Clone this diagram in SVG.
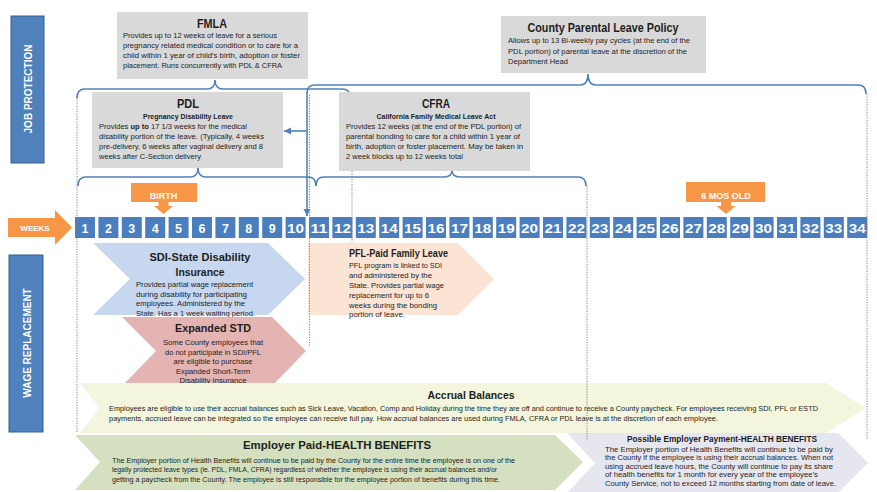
<svg xmlns="http://www.w3.org/2000/svg" width="877" height="492" viewBox="0 0 877 492">
<defs>
<style>
text{font-family:"Liberation Sans",Arial,sans-serif;fill:#1e1e1e}
.b{font-size:7.5px}
.s{font-size:7px}
.t{font-weight:bold}
.w{fill:#ffffff;font-weight:bold}
.wk{fill:#4A7EBF}
.gray{fill:#D9D9D9}
.side{fill:#4F81BD;stroke:#3B5E8C;stroke-width:1}
.org{fill:#F79646}
.brace{fill:none;stroke:#4F81BD;stroke-width:1.6}
.dot{fill:none;stroke:#7F7F7F;stroke-width:1;stroke-dasharray:1.2 1.4}
</style>
<marker id="ah" markerUnits="userSpaceOnUse" markerWidth="8" markerHeight="8" refX="7" refY="4" orient="auto">
<path d="M0,0.5 L7,4 L0,7.5 Z" fill="#4F81BD"/>
</marker>
</defs>
<rect width="877" height="492" fill="#ffffff"/>

<g id="connectors">
<path class="brace" d="M77,98 Q77,89 85,89 H207 Q215,89 215,80 Q215,89 223,89 H342 Q350,89 350,97"/>
<path class="brace" d="M307,93 Q307,85 315,85 H580 Q588,85 588,74 Q588,85 596,85 H858 Q866,85 866,94"/>
<path class="brace" d="M78,186 Q78,177 86,177 H190 Q198,177 198,168 Q198,177 206,177 H308 Q316,177 316,186"/>
<path class="brace" d="M316,186 Q316,177 324,177 H444 Q452,177 452,170 Q452,177 460,177 H578 Q586,177 586,186"/>
<path class="brace" d="M307,92 V216" marker-end="url(#ah)"/>
<path class="brace" d="M307,131 H284" marker-end="url(#ah)"/>
</g>

<g id="job-protection">
<rect class="side" x="11" y="16" width="33" height="147"/>
<text class="w" font-size="10" text-anchor="middle" transform="translate(31.5,89) rotate(-90)">JOB PROTECTION</text>
</g>

<g id="wage-replacement">
<rect class="side" x="9" y="255" width="34" height="177"/>
<text class="w" font-size="10" text-anchor="middle" transform="translate(30.5,343) rotate(-90)">WAGE REPLACEMENT</text>
</g>

<g id="fmla">
<rect class="gray" x="117" y="12" width="191" height="67"/>
<text class="t" font-size="13" x="212" y="28" text-anchor="middle" textLength="30" lengthAdjust="spacingAndGlyphs">FMLA</text>
<text class="b" x="123" y="38" textLength="154" lengthAdjust="spacingAndGlyphs">Provides up to 12 weeks of leave for a serious</text>
<text class="b" x="123" y="48" textLength="175" lengthAdjust="spacingAndGlyphs">pregnancy related medical condition or to care for a</text>
<text class="b" x="123" y="58" textLength="177" lengthAdjust="spacingAndGlyphs">child within 1 year of child's birth, adoption or foster</text>
<text class="b" x="123" y="68" textLength="159" lengthAdjust="spacingAndGlyphs">placement. Runs concurrently with PDL &amp; CFRA</text>
</g>

<g id="county-policy">
<rect class="gray" x="501" y="16" width="205" height="57"/>
<text class="t" font-size="12.5" x="603" y="32" text-anchor="middle" textLength="151" lengthAdjust="spacingAndGlyphs">County Parental Leave Policy</text>
<text class="b" x="508" y="43" textLength="182" lengthAdjust="spacingAndGlyphs">Allows up to 13 Bi-weekly pay cycles (at the end of the</text>
<text class="b" x="508" y="53.5" textLength="179" lengthAdjust="spacingAndGlyphs">PDL portion) of parental leave at the discretion of the</text>
<text class="b" x="508" y="64" textLength="60" lengthAdjust="spacingAndGlyphs">Department Head</text>
</g>

<g id="pdl">
<rect class="gray" x="92" y="92" width="191" height="76"/>
<text class="t" font-size="13" x="188" y="108" text-anchor="middle" textLength="22" lengthAdjust="spacingAndGlyphs">PDL</text>
<text class="b t" x="188" y="119" text-anchor="middle" textLength="90" lengthAdjust="spacingAndGlyphs">Pregnancy Disability Leave</text>
<text class="b" x="99" y="129" textLength="148" lengthAdjust="spacingAndGlyphs">Provides <tspan font-weight="bold">up to</tspan> 17 1/3 weeks for the medical</text>
<text class="b" x="99" y="139" textLength="165" lengthAdjust="spacingAndGlyphs">disability portion of the leave. (Typically, 4 weeks</text>
<text class="b" x="99" y="149" textLength="164" lengthAdjust="spacingAndGlyphs">pre-delivery, 6 weeks after vaginal delivery and 8</text>
<text class="b" x="99" y="159" textLength="102" lengthAdjust="spacingAndGlyphs">weeks after C-Section delivery</text>
</g>

<g id="cfra">
<rect class="gray" x="339" y="92" width="191" height="79"/>
<text class="t" font-size="13" x="436" y="108" text-anchor="middle" textLength="28" lengthAdjust="spacingAndGlyphs">CFRA</text>
<text class="b t" x="436" y="119" text-anchor="middle" textLength="119" lengthAdjust="spacingAndGlyphs">California Family Medical Leave Act</text>
<text class="b" x="346" y="129" textLength="175" lengthAdjust="spacingAndGlyphs">Provides 12 weeks (at the end of the PDL portion) of</text>
<text class="b" x="346" y="139" textLength="174" lengthAdjust="spacingAndGlyphs">parental bonding to care for a child within 1 year of</text>
<text class="b" x="346" y="149" textLength="177" lengthAdjust="spacingAndGlyphs">birth, adoption or foster placement. May be taken in</text>
<text class="b" x="346" y="159" textLength="117" lengthAdjust="spacingAndGlyphs">2 week blocks up to 12 weeks total</text>
</g>

<g id="birth">
<path class="org" d="M131,183 H197 V202 H168.5 V206 H173 L163.5,214 L154,206 H158.5 V202 H131 Z"/>
<text class="w" font-size="9" x="163.5" y="199" text-anchor="middle">BIRTH</text>
</g>

<g id="six-months">
<path class="org" d="M686,182 H765 V202 H731 V206 H735.5 L726,214 L716.5,206 H721 V202 H686 Z"/>
<text class="w" font-size="9" x="726" y="199" text-anchor="middle">6 MOS OLD</text>
</g>

<g id="weeks-arrow">
<path class="org" d="M8,218 H55 V210 L72,227.5 L55,245 V237 H8 Z"/>
<text class="w" font-size="8" x="35" y="230.5" text-anchor="middle">WEEKS</text>
</g>

<g id="weeks" font-size="12.5">
<rect class="wk" x="75" y="217" width="20" height="21"/><text class="w" x="85" y="232.5" text-anchor="middle">1</text>
<rect class="wk" x="98.4" y="217" width="20" height="21"/><text class="w" x="108.4" y="232.5" text-anchor="middle">2</text>
<rect class="wk" x="121.8" y="217" width="20" height="21"/><text class="w" x="131.8" y="232.5" text-anchor="middle">3</text>
<rect class="wk" x="145.2" y="217" width="20" height="21"/><text class="w" x="155.2" y="232.5" text-anchor="middle">4</text>
<rect class="wk" x="168.6" y="217" width="20" height="21"/><text class="w" x="178.6" y="232.5" text-anchor="middle">5</text>
<rect class="wk" x="192" y="217" width="20" height="21"/><text class="w" x="202" y="232.5" text-anchor="middle">6</text>
<rect class="wk" x="215.4" y="217" width="20" height="21"/><text class="w" x="225.4" y="232.5" text-anchor="middle">7</text>
<rect class="wk" x="238.8" y="217" width="20" height="21"/><text class="w" x="248.8" y="232.5" text-anchor="middle">8</text>
<rect class="wk" x="262.2" y="217" width="20" height="21"/><text class="w" x="272.2" y="232.5" text-anchor="middle">9</text>
<rect class="wk" x="285.6" y="217" width="20" height="21"/><text class="w" x="295.6" y="232.5" text-anchor="middle" textLength="17" lengthAdjust="spacingAndGlyphs">10</text>
<rect class="wk" x="309" y="217" width="20" height="21"/><text class="w" x="319" y="232.5" text-anchor="middle" textLength="17" lengthAdjust="spacingAndGlyphs">11</text>
<rect class="wk" x="332.4" y="217" width="20" height="21"/><text class="w" x="342.4" y="232.5" text-anchor="middle" textLength="17" lengthAdjust="spacingAndGlyphs">12</text>
<rect class="wk" x="355.8" y="217" width="20" height="21"/><text class="w" x="365.8" y="232.5" text-anchor="middle" textLength="17" lengthAdjust="spacingAndGlyphs">13</text>
<rect class="wk" x="379.2" y="217" width="20" height="21"/><text class="w" x="389.2" y="232.5" text-anchor="middle" textLength="17" lengthAdjust="spacingAndGlyphs">14</text>
<rect class="wk" x="402.6" y="217" width="20" height="21"/><text class="w" x="412.6" y="232.5" text-anchor="middle" textLength="17" lengthAdjust="spacingAndGlyphs">15</text>
<rect class="wk" x="426" y="217" width="20" height="21"/><text class="w" x="436" y="232.5" text-anchor="middle" textLength="17" lengthAdjust="spacingAndGlyphs">16</text>
<rect class="wk" x="449.4" y="217" width="20" height="21"/><text class="w" x="459.4" y="232.5" text-anchor="middle" textLength="17" lengthAdjust="spacingAndGlyphs">17</text>
<rect class="wk" x="472.8" y="217" width="20" height="21"/><text class="w" x="482.8" y="232.5" text-anchor="middle" textLength="17" lengthAdjust="spacingAndGlyphs">18</text>
<rect class="wk" x="496.2" y="217" width="20" height="21"/><text class="w" x="506.2" y="232.5" text-anchor="middle" textLength="17" lengthAdjust="spacingAndGlyphs">19</text>
<rect class="wk" x="519.6" y="217" width="20" height="21"/><text class="w" x="529.6" y="232.5" text-anchor="middle" textLength="17" lengthAdjust="spacingAndGlyphs">20</text>
<rect class="wk" x="543" y="217" width="20" height="21"/><text class="w" x="553" y="232.5" text-anchor="middle" textLength="17" lengthAdjust="spacingAndGlyphs">21</text>
<rect class="wk" x="566.4" y="217" width="20" height="21"/><text class="w" x="576.4" y="232.5" text-anchor="middle" textLength="17" lengthAdjust="spacingAndGlyphs">22</text>
<rect class="wk" x="589.8" y="217" width="20" height="21"/><text class="w" x="599.8" y="232.5" text-anchor="middle" textLength="17" lengthAdjust="spacingAndGlyphs">23</text>
<rect class="wk" x="613.2" y="217" width="20" height="21"/><text class="w" x="623.2" y="232.5" text-anchor="middle" textLength="17" lengthAdjust="spacingAndGlyphs">24</text>
<rect class="wk" x="636.6" y="217" width="20" height="21"/><text class="w" x="646.6" y="232.5" text-anchor="middle" textLength="17" lengthAdjust="spacingAndGlyphs">25</text>
<rect class="wk" x="660" y="217" width="20" height="21"/><text class="w" x="670" y="232.5" text-anchor="middle" textLength="17" lengthAdjust="spacingAndGlyphs">26</text>
<rect class="wk" x="683.4" y="217" width="20" height="21"/><text class="w" x="693.4" y="232.5" text-anchor="middle" textLength="17" lengthAdjust="spacingAndGlyphs">27</text>
<rect class="wk" x="706.8" y="217" width="20" height="21"/><text class="w" x="716.8" y="232.5" text-anchor="middle" textLength="17" lengthAdjust="spacingAndGlyphs">28</text>
<rect class="wk" x="730.2" y="217" width="20" height="21"/><text class="w" x="740.2" y="232.5" text-anchor="middle" textLength="17" lengthAdjust="spacingAndGlyphs">29</text>
<rect class="wk" x="753.6" y="217" width="20" height="21"/><text class="w" x="763.6" y="232.5" text-anchor="middle" textLength="17" lengthAdjust="spacingAndGlyphs">30</text>
<rect class="wk" x="777" y="217" width="20" height="21"/><text class="w" x="787" y="232.5" text-anchor="middle" textLength="17" lengthAdjust="spacingAndGlyphs">31</text>
<rect class="wk" x="800.4" y="217" width="20" height="21"/><text class="w" x="810.4" y="232.5" text-anchor="middle" textLength="17" lengthAdjust="spacingAndGlyphs">32</text>
<rect class="wk" x="823.8" y="217" width="20" height="21"/><text class="w" x="833.8" y="232.5" text-anchor="middle" textLength="17" lengthAdjust="spacingAndGlyphs">33</text>
<rect class="wk" x="847.2" y="217" width="20" height="21"/><text class="w" x="857.2" y="232.5" text-anchor="middle" textLength="17" lengthAdjust="spacingAndGlyphs">34</text>
</g>

<g id="sdi">
<path d="M93,243 H268 L305,279 L268,315 H93 L130,279 Z" fill="#C6D7EF"/>
<text class="t" font-size="11.5" x="200" y="261" text-anchor="middle" textLength="101" lengthAdjust="spacingAndGlyphs">SDI-State Disability</text>
<text class="t" font-size="11.5" x="200" y="276" text-anchor="middle" textLength="49" lengthAdjust="spacingAndGlyphs">Insurance</text>
<text class="b" x="136" y="286.5" textLength="117" lengthAdjust="spacingAndGlyphs">Provides partial wage replacement</text>
<text class="b" x="136" y="296.5" textLength="111" lengthAdjust="spacingAndGlyphs">during disability for participating</text>
<text class="b" x="136" y="306" textLength="109" lengthAdjust="spacingAndGlyphs">employees. Administered by the</text>
<text class="b" x="136" y="316" textLength="119" lengthAdjust="spacingAndGlyphs">State.  Has a 1 week waiting period.</text>
</g>

<g id="expanded-std">
<path d="M122,317 H272 L306,351 L272,386 H122 L156,351 Z" fill="#E4B4B3"/>
<text class="t" font-size="11.5" x="213" y="332" text-anchor="middle" textLength="76" lengthAdjust="spacingAndGlyphs">Expanded STD</text>
<text class="b" x="213" y="345" text-anchor="middle" textLength="100" lengthAdjust="spacingAndGlyphs">Some County employees that</text>
<text class="b" x="213" y="354.5" text-anchor="middle" textLength="96" lengthAdjust="spacingAndGlyphs">do not participate in SDI/PFL</text>
<text class="b" x="213" y="364" text-anchor="middle" textLength="79" lengthAdjust="spacingAndGlyphs">are eligible to purchase</text>
<text class="b" x="213" y="373.5" text-anchor="middle" textLength="74" lengthAdjust="spacingAndGlyphs">Expanded Short-Term</text>
<text class="b" x="213" y="383" text-anchor="middle" textLength="67" lengthAdjust="spacingAndGlyphs">Disability Insurance</text>
</g>

<g id="pfl">
<path d="M308,243 H458 L494,279 L458,315 H308 Z" fill="#FCE4D4"/>
<text class="t" font-size="10" x="349" y="257" textLength="99" lengthAdjust="spacingAndGlyphs">PFL-Paid Family Leave</text>
<text class="b" x="349" y="268" textLength="93" lengthAdjust="spacingAndGlyphs">PFL program is linked to SDI</text>
<text class="b" x="349" y="278" textLength="83" lengthAdjust="spacingAndGlyphs">and administered by the</text>
<text class="b" x="349" y="288" textLength="95" lengthAdjust="spacingAndGlyphs">State. Provides partial wage</text>
<text class="b" x="349" y="298" textLength="80" lengthAdjust="spacingAndGlyphs">replacement for up to 6</text>
<text class="b" x="349" y="307.5" textLength="88" lengthAdjust="spacingAndGlyphs">weeks during the bonding</text>
<text class="b" x="349" y="317" textLength="56" lengthAdjust="spacingAndGlyphs">portion of leave.</text>
</g>

<g id="accrual">
<path d="M80,383 H826 L866,408 L826,433 H80 L100,408 Z" fill="#F3F6DC"/>
<text class="t" font-size="11" x="471" y="399" text-anchor="middle" textLength="87" lengthAdjust="spacingAndGlyphs">Accrual Balances</text>
<text class="b" x="109" y="410.5" textLength="709" lengthAdjust="spacingAndGlyphs">Employees are eligible to use their accrual balances such as Sick Leave, Vacation, Comp and Holiday during the time they are off and continue to receive a County paycheck.  For employees receiving SDI, PFL or ESTD</text>
<text class="b" x="109" y="420.5" textLength="609" lengthAdjust="spacingAndGlyphs">payments, accrued leave can be integrated so the employee can receive full pay. How accrual balances are used during FMLA, CFRA or PDL leave is at the discretion of each employee.</text>
</g>

<g id="employer-paid">
<path d="M75,435 H555 L583,462 L555,490 H75 L100,462 Z" fill="#D4E0BF"/>
<text class="t" font-size="11.5" x="337" y="449" text-anchor="middle" textLength="188" lengthAdjust="spacingAndGlyphs">Employer Paid-HEALTH BENEFITS</text>
<text class="s" x="112" y="462.5" textLength="403" lengthAdjust="spacingAndGlyphs">The Employer portion of Health Benefits will continue to be paid by the County for the entire time the employee is on one of the</text>
<text class="s" x="112" y="472" textLength="385" lengthAdjust="spacingAndGlyphs">legally protected leave types (ie. PDL, FMLA, CFRA) regardless of whether the employee is using their accrual balances and/or</text>
<text class="s" x="112" y="481.5" textLength="388" lengthAdjust="spacingAndGlyphs">getting a paycheck from the County. The employee is still responsible for the employee portion of benefits during this time.</text>
</g>

<g id="possible-payment">
<path d="M567,433 H838 L868,463 L838,493 H567 L595,463 Z" fill="#E6E6EE"/>
<text class="t" font-size="8.5" x="722" y="442" text-anchor="middle" textLength="190" lengthAdjust="spacingAndGlyphs">Possible Employer Payment-HEALTH BENEFITS</text>
<text class="s" x="605" y="451.5" textLength="228" lengthAdjust="spacingAndGlyphs">The Employer portion of Health Benefits will continue to be paid by</text>
<text class="s" x="605" y="460" textLength="228" lengthAdjust="spacingAndGlyphs">the County if the employee is using their accrual balances. When not</text>
<text class="s" x="605" y="468.5" textLength="228" lengthAdjust="spacingAndGlyphs">using accrued leave hours, the County will continue to pay its share</text>
<text class="s" x="605" y="477" textLength="213" lengthAdjust="spacingAndGlyphs">of health benefits for 1 month for every year of the employee's</text>
<text class="s" x="605" y="485.5" textLength="231" lengthAdjust="spacingAndGlyphs">County Service, not to exceed 12 months starting from date of leave.</text>
</g>

<g id="week-markers">
<path class="dot" d="M77,98 V432"/>
<path class="dot" d="M309.5,95 V347"/>
<path class="dot" d="M352,171 V242"/>
<path class="dot" d="M587,186 V440"/>
<path class="dot" d="M867,94 V440"/>
</g>
</svg>
